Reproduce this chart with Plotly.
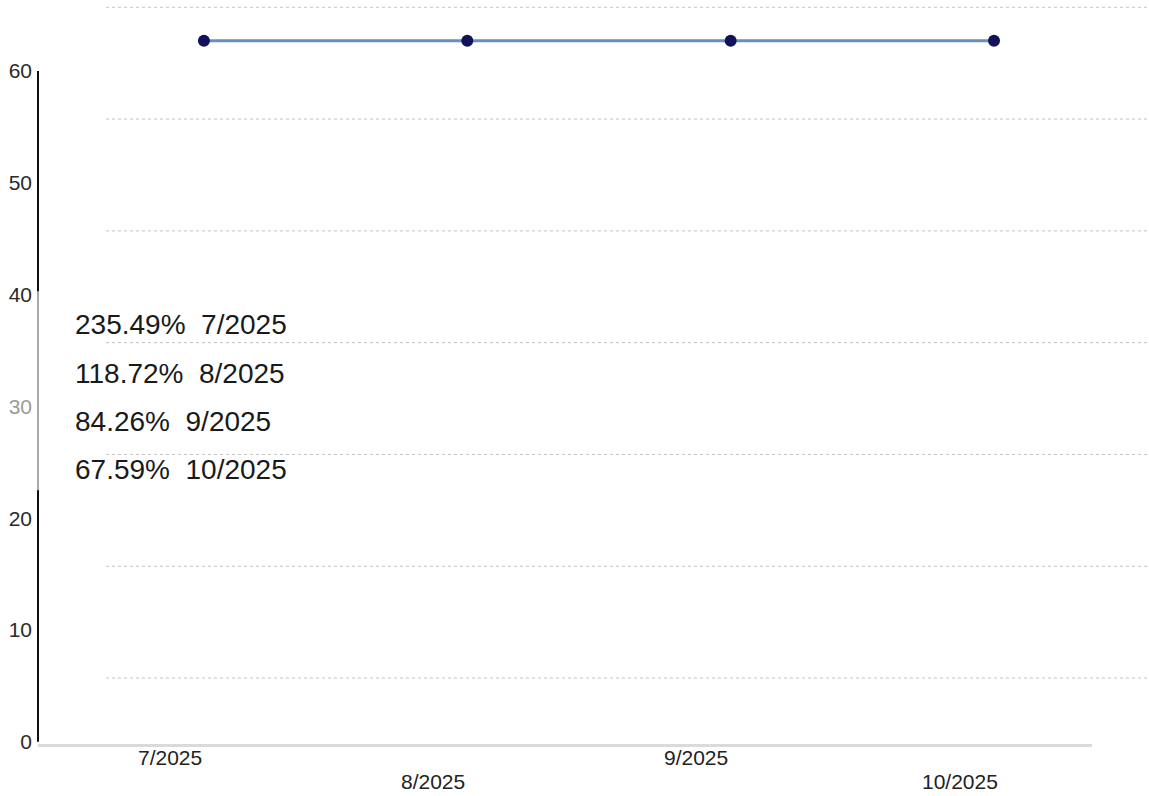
import plotly.graph_objects as go

# ---- data ----
months = ["7/2025", "8/2025", "9/2025", "10/2025"]
pct_values = [235.49, 118.72, 84.26, 67.59]
line_values = [62.7, 62.7, 62.7, 62.7]   # plotted line sits above the axis top (clipped look)
y_tick_vals = [0, 10, 20, 30, 40, 50, 60]
y_tick_text = ["0", "10", "20", "<span style='color:#9a9a9a'>30</span>", "40", "50", "60"]

W, H = 1149, 796
x_idx = list(range(len(months)))

fig = go.Figure()
fig.add_trace(go.Scatter(
    x=x_idx, y=line_values, mode="lines+markers",
    line=dict(color="#6690bf", width=3),
    marker=dict(color="#12125a", size=12),
    showlegend=False, hoverinfo="skip", cliponaxis=False,
))

shapes = []
# dotted gridlines (offset from ticks), extending past the plot to the right edge
pl, pr = 38, 1092
for k in range(7):
    yv = 5.7 + 10 * k
    shapes.append(dict(type="line", xref="paper", yref="y",
                       x0=(106 - pl) / (pr - pl), x1=(1149 - pl) / (pr - pl),
                       y0=yv, y1=yv, line=dict(color="#c2c2c2", width=1, dash="dot")))
# y axis line: black with a grey middle part
shapes.append(dict(type="line", xref="paper", yref="y", x0=0, x1=0, y0=0, y1=60,
                   line=dict(color="#111111", width=2)))
shapes.append(dict(type="line", xref="paper", yref="y", x0=0, x1=0, y0=22.5, y1=40.3,
                   line=dict(color="#a8a8a8", width=2)))

annotations = []
# staggered x tick labels
for i, m in enumerate(months):
    annotations.append(dict(
        x=i - 0.13, xref="x", y=-(757 - 744) / 744 if i % 2 == 0 else -(781 - 744) / 744,
        yref="paper", text=m, showarrow=False, xanchor="center", yanchor="middle",
        font=dict(size=21, color="#222222", family="Liberation Sans"),
    ))
# value list text block
for i, (p, m) in enumerate(zip(pct_values, months)):
    annotations.append(dict(
        x=(73 - pl) / (pr - pl), xref="paper",
        y=(744 - (325 + 48 * i)) / 744, yref="paper",
        text=f"{p:.2f}%\u00a0 {m}", showarrow=False, xanchor="left", yanchor="middle",
        font=dict(size=28, color="#1a1a1a", family="Liberation Sans"),
    ))

fig.update_layout(
    width=W, height=H,
    margin=dict(l=pl, r=W - pr, t=0, b=H - 744),
    paper_bgcolor="white", plot_bgcolor="white",
    shapes=shapes, annotations=annotations,
    xaxis=dict(range=[-0.63, 3.372], showgrid=False, zeroline=False,
               showticklabels=False, ticks="", showline=True,
               linecolor="#dadada", linewidth=3),
    yaxis=dict(range=[-0.2, 66.35], showgrid=False, zeroline=False,
               tickvals=y_tick_vals, ticktext=y_tick_text, ticks="",
               ticklabelstandoff=5,
               tickfont=dict(size=21, color="#2a2a2a", family="Liberation Sans"),
               showline=False),
    showlegend=False,
)

fig.write_html("out.html", config={"displayModeBar": False},
               post_script="document.body.style.margin='0';document.body.style.overflow='hidden';")
